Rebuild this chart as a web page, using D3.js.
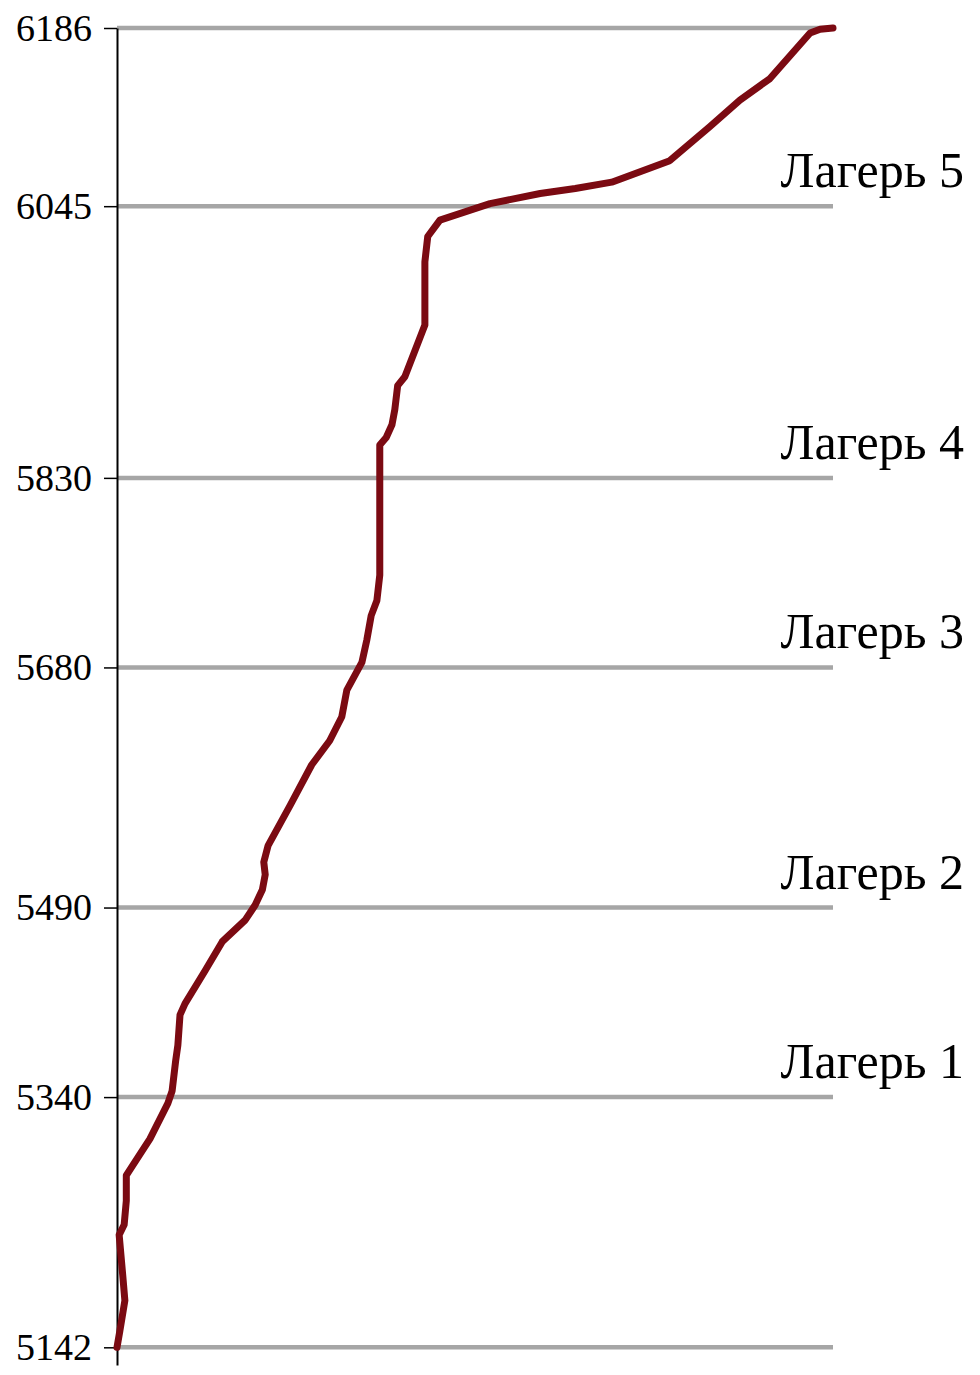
<!DOCTYPE html>
<html>
<head>
<meta charset="utf-8">
<script src="https://cdn.jsdelivr.net/npm/d3@7"></script>
<style>
  body { margin: 0; background: #fff; }
  text { font-family: "Liberation Serif", "Times New Roman", serif; }
</style>
</head>
<body>
<div id="chart"></div>
<script>
// altitude ticks and camp levels
let tickValues = [5142, 5340, 5490, 5680, 5830, 6045, 6186];
let campNames = ["Лагерь 1", "Лагерь 2", "Лагерь 3", "Лагерь 4", "Лагерь 5"];
let campAlts = [5340, 5490, 5680, 5830, 6045];

// route profile: progress along route (0-100) and altitude (m)
let progress = [0, 0.4, 1.1, 0.8, 0.3, 1.0, 1.3, 1.3, 2.2, 4.6, 7.1, 7.7, 8.2, 8.5, 8.8, 9.5,
  12.3, 14.7, 17.9, 19.3, 20.3, 20.7, 20.5, 21.1, 24.2, 27.2, 29.7, 31.4, 32.1, 34.2,
  34.9, 35.5, 36.3, 36.7, 36.7, 37.6, 38.4, 38.8, 39.2, 40.2, 43.0, 43.0, 43.4, 45.1,
  52.1, 59.1, 64.0, 69.1, 77.2, 82.8, 87.0, 91.2, 96.8, 98.2, 100];
let altitude = [5142, 5155, 5179, 5199, 5231, 5239, 5258, 5278, 5286, 5307, 5335, 5345, 5369, 5381, 5405, 5414,
  5440, 5463, 5480, 5492, 5504, 5516, 5526, 5539, 5571, 5603, 5622, 5641, 5662, 5684,
  5702, 5721, 5733, 5753, 5856, 5862, 5872, 5884, 5903, 5910, 5951, 6001, 6021, 6034,
  6047, 6055, 6059, 6064, 6081, 6108, 6129, 6146, 6182, 6185, 6186];

let W = 980, H = 1375;

let svg = d3.select("#chart")
  .append("svg")
  .attr("width", W)
  .attr("height", H);

let x = d3.scaleLinear().domain([0, 100]).range([117, 833]);
// domain goes a bit below 5142 so the axis line runs past the bottom grid line
let y = d3.scaleLinear().domain([5128, 6186]).range([1365, 28]);

// grid lines
svg.selectAll(".grid")
  .data(tickValues)
  .enter().append("line")
  .attr("class", "grid")
  .attr("x1", x(0))
  .attr("x2", x(100))
  .attr("y1", d => y(d))
  .attr("y2", d => y(d))
  .attr("stroke", "#a6a6a6")
  .attr("stroke-width", 4.5);

// left axis
let axis = svg.append("g")
  .attr("transform", "translate(" + x(0) + ",0)")
  .call(d3.axisLeft(y).tickValues(tickValues).tickSize(13).tickSizeOuter(0).tickPadding(12).tickFormat(d3.format("d")));
axis.select(".domain").attr("stroke", "#000").attr("stroke-width", 2);
axis.selectAll(".tick line").attr("stroke", "#000").attr("stroke-width", 1.5);
axis.selectAll(".tick text")
  .attr("fill", "#000")
  .style("font-family", "'Liberation Serif', serif")
  .style("font-size", "38px");

// camp labels
svg.selectAll(".camp")
  .data(campAlts)
  .enter().append("text")
  .attr("class", "camp")
  .attr("x", 964)
  .attr("y", d => y(d) - 19)
  .attr("text-anchor", "end")
  .style("font-size", "50px")
  .attr("fill", "#000")
  .text((d, i) => campNames[i]);

// profile line
let pts = progress.map((p, i) => [p, altitude[i]]);
svg.append("path")
  .datum(pts)
  .attr("fill", "none")
  .attr("stroke", "#7b0a12")
  .attr("stroke-width", 7)
  .attr("stroke-linejoin", "round")
  .attr("stroke-linecap", "round")
  .attr("d", d3.line().x(d => x(d[0])).y(d => y(d[1])));
</script>
</body>
</html>
